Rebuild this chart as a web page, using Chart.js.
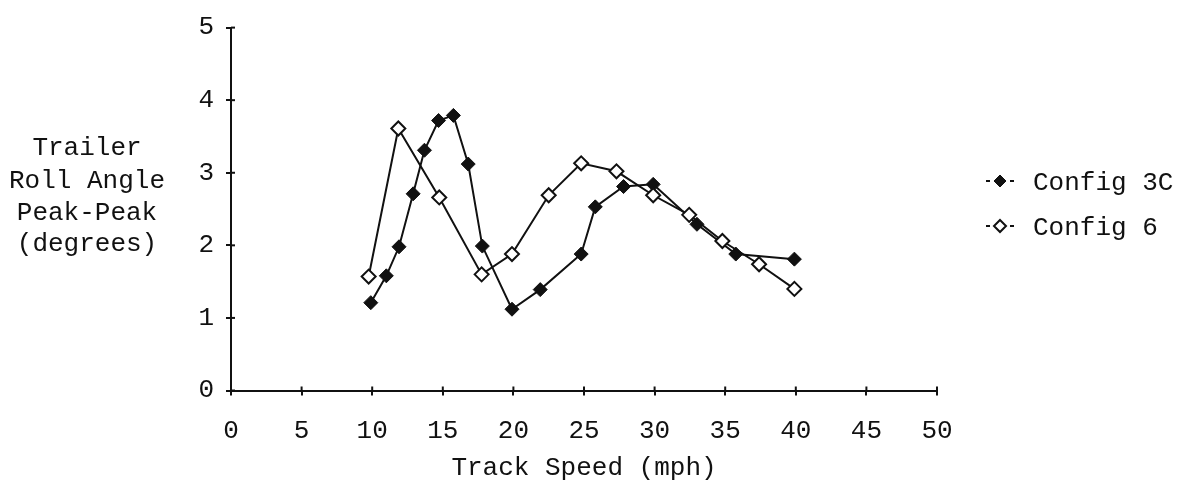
<!DOCTYPE html>
<html><head><meta charset="utf-8">
<script src="https://cdn.jsdelivr.net/npm/chart.js"></script>
<style>html,body{margin:0;padding:0;background:#fff;}#wrap{width:1187px;height:484px;}</style>
</head><body><div id="wrap"><canvas id="c" width="1187" height="484"></canvas></div>
<script>
const seriesNames = ['Config 3C', 'Config 6'];
const speed3C = [9.9, 11, 11.9, 12.9, 13.7, 14.7, 15.75, 16.8, 17.8, 19.9, 21.9, 24.8, 25.8, 27.8, 29.9, 33, 35.75, 39.9];
const roll3C  = [1.21, 1.58, 1.98, 2.71, 3.31, 3.72, 3.79, 3.12, 1.99, 1.12, 1.39, 1.88, 2.53, 2.81, 2.84, 2.29, 1.88, 1.81];
const speed6  = [9.75, 11.85, 14.75, 17.75, 19.9, 22.5, 24.8, 27.3, 29.9, 32.45, 34.8, 37.4, 39.9];
const roll6   = [1.57, 3.61, 2.66, 1.60, 1.88, 2.69, 3.13, 3.02, 2.69, 2.42, 2.06, 1.74, 1.40];
const xTickValues = [0, 5, 10, 15, 20, 25, 30, 35, 40, 45, 50];
const yTickValues = [0, 1, 2, 3, 4, 5];
const yTitleLines = ['Trailer', 'Roll Angle', 'Peak-Peak', '(degrees)'];
const xTitle = 'Track Speed (mph)';

const FONT = '"Liberation Mono", "DejaVu Sans Mono", monospace';
const INK = '#111';

function pts(xs, ys) { return xs.map((x, i) => ({ x: x, y: ys[i] })); }

const extras = {
  id: 'extras',
  afterDraw(chart) {
    const ctx = chart.ctx;
    const xs = chart.scales.x, ys = chart.scales.y, a = chart.chartArea;
    ctx.save();
    // inner tick stubs
    ctx.strokeStyle = INK; ctx.lineWidth = 2;
    xTickValues.forEach(v => {
      const px = xs.getPixelForValue(v);
      ctx.beginPath(); ctx.moveTo(px, a.bottom); ctx.lineTo(px, a.bottom - 4); ctx.stroke();
    });
    yTickValues.forEach(v => {
      const py = ys.getPixelForValue(v);
      ctx.beginPath(); ctx.moveTo(a.left, py); ctx.lineTo(a.left + 4, py); ctx.stroke();
    });
    // y title (horizontal, multi-line)
    ctx.fillStyle = INK;
    ctx.font = '26px ' + FONT;
    ctx.textAlign = 'center'; ctx.textBaseline = 'middle';
    const yl = [148, 181, 213, 244];
    yTitleLines.forEach((t, i) => ctx.fillText(t, 87, yl[i]));
    // legend
    chart.data.datasets.forEach((ds, i) => {
      const cy = 181 + i * 45;
      ctx.strokeStyle = INK; ctx.lineWidth = 2;
      ctx.beginPath(); ctx.moveTo(986, cy); ctx.lineTo(990, cy); ctx.stroke();
      ctx.beginPath(); ctx.moveTo(1010, cy); ctx.lineTo(1014, cy); ctx.stroke();
      ctx.fillStyle = ds.pointBackgroundColor;
      ctx.strokeStyle = ds.pointBorderColor;
      ctx.lineWidth = ds.pointBorderWidth;
      const r = 6;
      ctx.beginPath();
      ctx.moveTo(1000, cy - r); ctx.lineTo(1000 + r, cy); ctx.lineTo(1000, cy + r); ctx.lineTo(1000 - r, cy); ctx.closePath();
      ctx.fill(); ctx.stroke();
      ctx.fillStyle = INK;
      ctx.textAlign = 'left'; ctx.textBaseline = 'middle';
      ctx.fillText(ds.label, 1033, cy + 2);
    });
    ctx.restore();
  }
};

new Chart(document.getElementById('c'), {
  type: 'scatter',
  data: {
    datasets: [
      { label: seriesNames[0], data: pts(speed3C, roll3C), showLine: true, order: 1,
        borderColor: INK, borderWidth: 2, pointStyle: 'rectRot', pointRadius: 7,
        pointBackgroundColor: INK, pointBorderColor: INK, pointBorderWidth: 1 },
      { label: seriesNames[1], data: pts(speed6, roll6), showLine: true, order: 0,
        borderColor: INK, borderWidth: 2, pointStyle: 'rectRot', pointRadius: 7,
        pointBackgroundColor: '#fff', pointBorderColor: INK, pointBorderWidth: 2 }
    ]
  },
  options: {
    responsive: false, animation: false,
    layout: { padding: { left: 0, right: 250, top: 17, bottom: 0 } },
    plugins: { legend: { display: false }, tooltip: { enabled: false } },
    scales: {
      x: {
        type: 'linear', min: 0, max: 50,
        afterBuildTicks: s => { s.ticks = xTickValues.map(v => ({ value: v })); },
        grid: { drawOnChartArea: false, drawTicks: true, tickLength: 5, color: INK, lineWidth: 2 },
        border: { display: true, color: INK, width: 2 },
        ticks: { font: { family: FONT, size: 26 }, color: INK, padding: 20, maxRotation: 0, autoSkip: false },
        title: { display: true, text: xTitle, font: { family: FONT, size: 26 }, color: INK, padding: { top: 4, bottom: 0 } },
        afterFit: s => { s.height = 93.5; }
      },
      y: {
        type: 'linear', min: 0, max: 5,
        afterBuildTicks: s => { s.ticks = yTickValues.map(v => ({ value: v })); },
        grid: { drawOnChartArea: false, drawTicks: true, tickLength: 5, color: INK, lineWidth: 2 },
        border: { display: true, color: INK, width: 2 },
        ticks: { font: { family: FONT, size: 26 }, color: INK, padding: 12 },
        afterFit: s => { s.width = 231; }
      }
    }
  },
  plugins: [extras]
});
</script>
</body></html>
